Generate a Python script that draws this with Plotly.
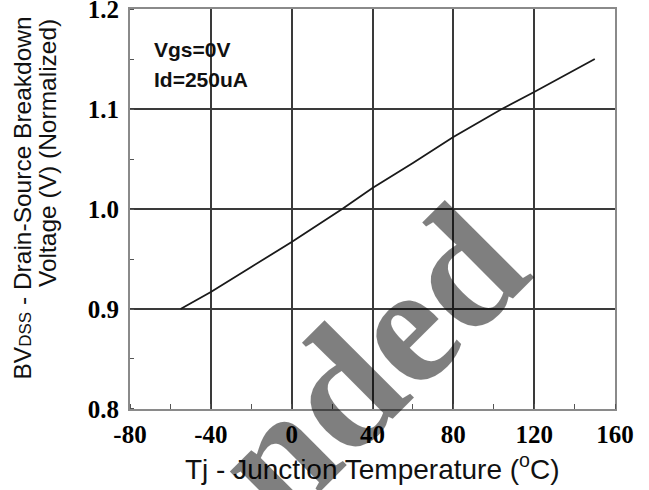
import plotly.graph_objects as go

# Data
temp_c = [-55, -40, -20, 0, 25, 40, 60, 80, 104, 120, 150]
bv_norm = [0.900, 0.917, 0.942, 0.967, 1.000, 1.021, 1.046, 1.072, 1.100, 1.117, 1.150]

x_ticks = [-80, -40, 0, 40, 80, 120, 160]
y_ticks = [0.8, 0.9, 1.0, 1.1, 1.2]
y_tick_text = ["0.8", "0.9", "1.0", "1.1", "1.2"]

W, H = 649, 490
L, R, T, B = 130, 34, 9, 81
PW, PH = W - L - R, H - T - B


def px(xp):
    return (xp - L) / PW


def py(yp):
    return (H - B - yp) / PH


fig = go.Figure()
fig.add_trace(go.Scatter(x=temp_c, y=bv_norm, mode="lines",
                         line=dict(color="#1a1a1a", width=1.8),
                         showlegend=False, hoverinfo="skip"))

tick_font = dict(family="Liberation Serif", size=25, color="#000")
axis_common = dict(showgrid=True, gridcolor="#3a3a3a", gridwidth=1.6,
                   showline=True, linecolor="#8a8a8a", linewidth=2, mirror=True,
                   zeroline=False, tickfont=tick_font, ticks="",
                   automargin=False, ticklabeloverflow="allow")

fig.update_xaxes(range=[-80, 160], tickvals=x_ticks,
                 ticktext=["<b>%d</b>" % v for v in x_ticks],
                 minor=dict(dtick=20, tick0=-80, ticks="inside", ticklen=5,
                            tickcolor="#555", tickwidth=1, showgrid=False),
                 ticklabelstandoff=2, **axis_common)
fig.update_yaxes(range=[0.79999, 1.20001], tickvals=y_ticks,
                 ticktext=["<b>%s</b>" % t for t in y_tick_text],
                 minor=dict(dtick=0.05, tick0=0.8, ticks="inside", ticklen=4,
                            tickcolor="#555", tickwidth=1, showgrid=False),
                 ticklabelstandoff=4, **axis_common)

annots = []
# x-axis title
annots.append(dict(text="Tj - Junction Temperature (<sup>o</sup>C)",
                   x=0.5, y=py(467), xref="paper", yref="paper",
                   xanchor="center", yanchor="middle", showarrow=False,
                   font=dict(family="Liberation Sans", size=28, color="#111")))
# y-axis title, two lines aligned at the top end
annots.append(dict(text="BV<span style='font-size:17px'>DSS</span> - Drain-Source Breakdown",
                   x=px(22), y=py(15), xref="paper", yref="paper",
                   xanchor="center", yanchor="top", textangle=-90, showarrow=False,
                   font=dict(family="Liberation Sans", size=24.5, color="#111")))
annots.append(dict(text="Voltage (V) (Normalized)",
                   x=px(47), y=py(17), xref="paper", yref="paper",
                   xanchor="center", yanchor="top", textangle=-90, showarrow=False,
                   font=dict(family="Liberation Sans", size=24.5, color="#111")))
# condition labels
annots.append(dict(text="<b>Vgs=0V</b>", x=px(152), y=py(49.5), xref="paper", yref="paper",
                   xanchor="left", yanchor="middle", showarrow=False,
                   font=dict(family="Liberation Sans", size=21, color="#111")))
annots.append(dict(text="<b>Id=250uA</b>", x=px(152), y=py(79.5), xref="paper", yref="paper",
                   xanchor="left", yanchor="middle", showarrow=False,
                   font=dict(family="Liberation Sans", size=21, color="#111")))
# watermark
annots.append(dict(text="<b>nded</b>", x=px(368), y=py(363), xref="paper", yref="paper",
                   xanchor="center", yanchor="middle", textangle=-45, showarrow=False,
                   font=dict(family="Liberation Serif", size=170, color="rgba(0,0,0,0.5)")))

fig.update_layout(width=W, height=H, margin=dict(l=L, r=R, t=T, b=B),
                  paper_bgcolor="white", plot_bgcolor="white",
                  annotations=annots, showlegend=False)

fig.write_html("out.html", config={"displayModeBar": False},
               post_script="document.body.style.margin='0';document.body.style.overflow='hidden';")
